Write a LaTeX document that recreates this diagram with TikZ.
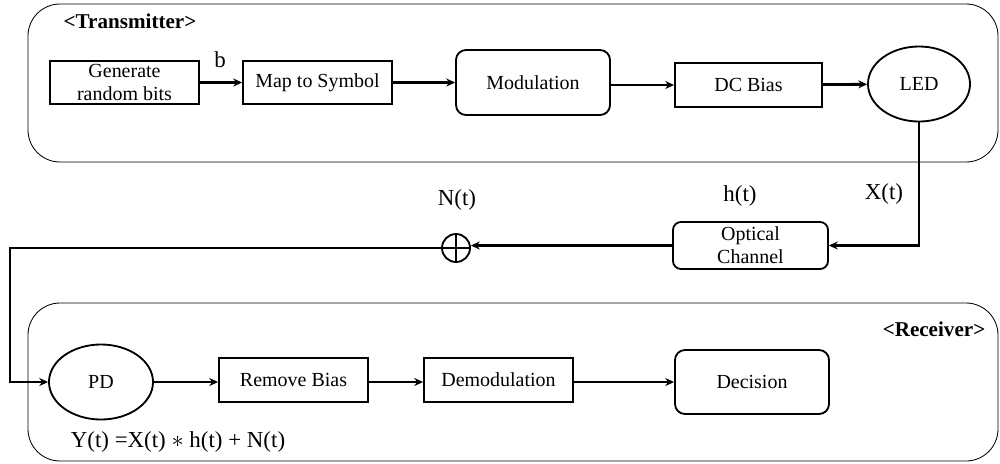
\documentclass[tikz,border=0pt]{standalone}
\usepackage{fontspec}
\setmainfont{Liberation Serif}
\usetikzlibrary{arrows.meta}
\usetikzlibrary{shapes.geometric}

\begin{document}
\begin{tikzpicture}[x=0.025cm,y=-0.025cm]
\def\l{2.2mm}
\def\w{2mm}
\def\t{1.3pt}
\def\fs{\rmfamily\fontsize{14.2}{16.5}\selectfont}
\def\ls{\rmfamily\fontsize{16.3}{18}\selectfont}
\useasboundingbox (0,0) rectangle (1000,463);
% frames
\draw[line width=.6pt,rounded corners=0.8cm] (28,4) rectangle (998,162);
\draw[line width=.6pt,rounded corners=0.8cm] (28,303) rectangle (998,461);
\node [font=\rmfamily\fontsize{15}{17}\bfseries, name=tx]      at (130,21) {<Transmitter>};
\node [font=\rmfamily\fontsize{15}{17}\bfseries, name=rx]      at (934,329) {<Receiver>};

\node [draw,line width=\t, align=center, inner sep=0pt, minimum width=3.725cm, minimum height=1.075cm, font=\fs, name=gen]      at (124.5,82.5) {Generate\\random bits};
\node [draw,line width=\t, inner sep=0pt, minimum width=3.725cm, minimum height=1.075cm, font=\fs, name=map]      at (317.5,82.5) {Map to Symbol};
\node [draw,line width=\t, rounded corners=0.25cm, inner sep=0pt, minimum width=3.85cm, minimum height=1.625cm, font=\fs, name=mod]      at (533,82.5) {Modulation};
\node [draw,line width=\t, inner sep=0pt, minimum width=3.675cm, minimum height=1.1cm, font=\fs, name=dc]      at (748.5,85) {DC Bias};
\node [draw,line width=\t, ellipse, inner sep=0pt, minimum width=2.55cm, minimum height=1.875cm, font=\fs, name=led]      at (919,84) {LED};
\node [draw,line width=\t, rounded corners=0.2cm, align=center, inner sep=0pt, minimum width=3.875cm, minimum height=1.175cm, font=\fs, name=och]      at (750.5,245.5) {Optical\\Channel};
\node [draw,line width=\t, circle, inner sep=0pt, minimum size=0.7cm, name=sum]      at (456,248) {};
\draw [line width=\t] (sum.north) -- (sum.south) (sum.west) -- (sum.east);
\node [draw,line width=\t, ellipse, inner sep=0pt, minimum width=2.6cm, minimum height=1.875cm, font=\fs, name=pd]      at (101,382) {PD};
\node [draw,line width=\t, inner sep=0pt, minimum width=3.725cm, minimum height=1.1cm, font=\fs, name=rb]      at (293.5,380) {Remove Bias};
\node [draw,line width=\t, inner sep=0pt, minimum width=3.725cm, minimum height=1.1cm, font=\fs, name=dem]      at (498.5,380) {Demodulation};
\node [draw,line width=\t, rounded corners=0.25cm, inner sep=0pt, minimum width=3.85cm, minimum height=1.6cm, font=\fs, name=dec]      at (752,382) {Decision};

\node [font=\ls, name=lb]      at (220,60) {b};
\node [font=\ls, name=lx]      at (884,194) {X(t)};
\node [font=\ls, name=lh]      at (740,196) {h(t)};
\node [font=\ls, name=ln]      at (457,200) {N(t)};
\node [font=\ls, name=ly]      at (178,442) {Y(t) =X(t) $\ast$ h(t) + N(t)};
\coordinate (bend) at (10,248);

\draw [line width=2pt,-{Stealth[length=\l, width=\w]}](gen) to (map);
\draw [line width=2pt,-{Stealth[length=\l, width=\w]}](map.east) to (map.east-|mod.west);
\draw [line width=2pt,-{Stealth[length=\l, width=\w]}](dc.west-|mod.east) to (dc.west);
\draw [line width=2pt,-{Stealth[length=\l, width=\w]}](dc) to (led);
\draw [line width=2pt,-{Stealth[length=\l, width=\w]}](led.south) |- (och.east);
\draw [line width=2pt,-{Stealth[length=\l, width=\w]}](och.west) to (och.west-|sum.east);
\draw [line width=2pt,-{Stealth[length=\l, width=\w]}](sum.west) -- (bend) |- (pd.west);
\draw [line width=2pt,-{Stealth[length=\l, width=\w]}](pd) to (pd-|rb.west);
\draw [line width=2pt,-{Stealth[length=\l, width=\w]}](rb.east|-pd) to (pd-|dem.west);
\draw [line width=2pt,-{Stealth[length=\l, width=\w]}](dem.east|-pd) to (dec.west);
\end{tikzpicture}
\end{document}
